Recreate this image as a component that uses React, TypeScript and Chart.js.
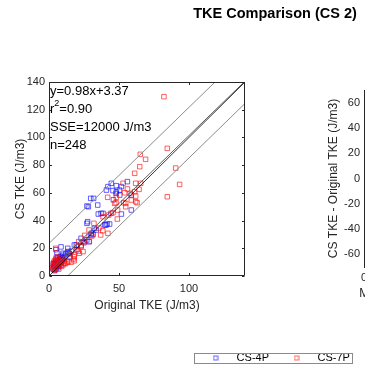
import React, { useEffect, useRef } from "react";
import { Chart, registerables } from "chart.js";

Chart.register(...registerables);

const FONT = "'Liberation Sans', Arial, Helvetica, sans-serif";

const FIGURE_TITLE = "TKE Comparison (CS 2)";
const SERIES_NAMES = ["CS-4P", "CS-7P"];
const MAIN_X_LABEL = "Original TKE (J/m3)";
const MAIN_Y_LABEL = "CS TKE (J/m3)";
const DIFF_X_LABEL = "Mean of CS and Original TKE (J/m3)";
const DIFF_Y_LABEL = "CS TKE - Original TKE (J/m3)";
const STATS_TEXT = ["y=0.98x+3.37", "r^2=0.90", "SSE=12000 J/m3", "n=248"];

const MAIN_X_TICKS = [0, 50, 100];
const MAIN_Y_TICKS = [0, 20, 40, 60, 80, 100, 120, 140];
const DIFF_X_TICKS = [0, 50, 100];
const DIFF_Y_TICKS = [-60, -40, -20, 0, 20, 40, 60];

// CS-4P (blue)
const CS4P_X = [3, 3.5, 4, 4, 4.5, 5, 5, 5.5, 6, 6, 6.5, 7, 7.5, 8, 8.5, 9, 9.5, 10, 3, 4, 5, 6, 7, 8, 10, 11, 12, 8.8, 5.7, 10,
  5, 8.6, 13.4, 14.5, 13.8, 18.1, 19.5, 22.9, 25, 27, 28.6, 30, 31.5, 32.4, 33.8, 30.2, 27.6, 27.1, 37.2, 35.2, 38.6, 40.7, 41.5, 43.3, 39.8, 44.3,
  28.1, 27.1, 34.8, 29.8, 31.9, 41, 42.1, 44.5, 45.7, 48.1, 48.1, 50.5, 51.7, 50.3, 47.9, 56, 51.7, 58.8, 58.8, 46, 15, 16, 20, 23];
const CS4P_Y = [5, 7, 6, 9, 8, 5, 10, 7, 8, 11, 6, 9, 12, 10, 8, 11, 13, 12, 9, 4, 12, 13, 7, 14, 15, 14, 16, 12.7, 16.8, 16.4,
  19, 21, 20, 16.4, 17.6, 22.4, 22.4, 27.2, 24, 26, 24.8, 29.6, 30, 34.4, 33.2, 30.8, 39.2, 38, 45.2, 44.7, 45.2, 36.8, 37.5, 37.5, 36.8, 45.2,
  50, 50.5, 51.2, 56, 56, 62, 64.5, 66.9, 61.6, 65.2, 60.8, 58.4, 64.5, 62, 59.6, 68.1, 44.7, 47.6, 58.4, 55, 14, 18, 19, 22];

// CS-7P (red)
const CS7P_X = [2.5, 3, 3.5, 4, 4, 4.5, 5, 5, 5.5, 6, 6.5, 7, 7.5, 8, 8.5, 9, 10, 11, 12, 13, 14, 11.2, 3, 4, 6, 8.6, 7, 9, 16, 18,
  4.8, 13.4, 14.8, 17.6, 17.9, 18.1, 21, 21.7, 24.3, 20, 22.9, 21.2, 24.3, 25.3, 28.8, 25.5, 30.7, 28.6, 32.1, 35.7, 36.9, 38.4, 42.1, 38.6,
  42.6, 45.7, 48.8, 49, 41.9, 47.9, 46.9, 48.1, 53.4, 54.8, 54.8, 54, 56, 52.9, 57.9, 58.8, 61.9, 61.9, 62.9, 61.2, 64.3, 61.9, 65.5,
  61.2, 64.8, 69, 65.2, 84.5, 82.1, 90.5, 93.3, 84.5];
const CS7P_Y = [6, 8, 10, 7, 11, 9, 6, 13, 8, 10, 12, 8, 11, 9, 13, 10, 8, 11, 9, 10, 10.3, 9.1, 5, 4, 14, 10.3, 5, 7, 10, 11,
  20, 17.6, 15.9, 12.3, 15.2, 13.9, 18, 16.4, 17.6, 21.2, 21.2, 24.8, 24.8, 24.8, 24.8, 29.3, 28.9, 33.2, 38, 34.6, 29.6, 32.7, 30.8, 42.8,
  44, 45.7, 41.1, 47.6, 56.8, 52.9, 52.4, 56.8, 52.9, 50, 52.4, 60.1, 62.8, 66.9, 59.6, 54.8, 57.7, 53.6, 52.9, 60.8, 62.5, 66.9, 66.9,
  74.1, 78.9, 84.2, 87.8, 92.1, 129.4, 77.9, 66.1, 57.2];

// reference lines (end points)
const ONE_TO_ONE_X = [0, 140];
const ONE_TO_ONE_Y = [0, 140];
const FIT_LINE_X = [0, 139.4];
const FIT_LINE_Y = [3.37, 140];
const UPPER_LINE_X = [0, 118.6];
const UPPER_LINE_Y = [23.5, 140];
const LOWER_LINE_X = [13.3, 140];
const LOWER_LINE_Y = [0, 124.5];

const BLUE = "rgba(0,0,255,0.62)";
const RED = "rgba(255,0,0,0.62)";
const AXIS = "#262626";

const pts = (xs: number[], ys: number[]) => xs.map((x, i) => ({ x, y: ys[i] }));

const lineDs = (xs: number[], ys: number[], color: string, width: number) => ({
  data: pts(xs, ys),
  showLine: true,
  pointRadius: 0,
  borderColor: color,
  borderWidth: width,
  fill: false,
  order: 0,
});

const fixTicks = (list: number[]) => (s: any) => {
  s.ticks = list.map((v) => ({ value: v }));
};

const mainDecor = {
  id: "mainDecor",
  afterDraw(chart: any) {
    const { ctx, chartArea } = chart;
    const { left, right, top, bottom } = chartArea;
    const xs = chart.scales.x;
    const ys = chart.scales.y;
    ctx.save();
    ctx.strokeStyle = AXIS;
    ctx.lineWidth = 1;
    const L = Math.round(left) + 0.5;
    const R = Math.round(right) - 0.5;
    const T = Math.round(top) + 0.5;
    const B = Math.round(bottom) - 0.5;
    ctx.beginPath();
    ctx.rect(L, T, R - L, B - T);
    const tl = 2.5;
    MAIN_X_TICKS.forEach((v) => {
      const p = Math.round(xs.getPixelForValue(v)) + 0.5;
      ctx.moveTo(p, B);
      ctx.lineTo(p, B - tl);
      ctx.moveTo(p, T);
      ctx.lineTo(p, T + tl);
    });
    MAIN_Y_TICKS.forEach((v) => {
      const p = Math.round(ys.getPixelForValue(v)) + 0.5;
      ctx.moveTo(L, p);
      ctx.lineTo(L + tl, p);
      ctx.moveTo(R, p);
      ctx.lineTo(R - tl, p);
    });
    ctx.stroke();

    // statistics text
    ctx.fillStyle = "#000";
    ctx.textBaseline = "middle";
    ctx.textAlign = "left";
    STATS_TEXT.forEach((line, i) => {
      const y = top + 9 + i * 18;
      let x = left + 1;
      const parts = line.split("^");
      ctx.font = `13px ${FONT}`;
      if (parts.length === 2) {
        ctx.fillText(parts[0], x, y);
        x += ctx.measureText(parts[0]).width;
        ctx.font = `9px ${FONT}`;
        ctx.fillText(parts[1][0], x, y - 5);
        x += ctx.measureText(parts[1][0]).width;
        ctx.font = `13px ${FONT}`;
        ctx.fillText(parts[1].slice(1), x, y);
      } else {
        ctx.fillText(line, x, y);
      }
    });
    ctx.restore();
  },
};

const sideDecor = {
  id: "sideDecor",
  afterDraw(chart: any) {
    const ctx = chart.ctx;
    const { left, right, bottom } = chart.chartArea;
    ctx.save();
    // x-axis label of the difference plot (may run wider than its axes)
    ctx.font = `12px ${FONT}`;
    ctx.fillStyle = AXIS;
    ctx.textAlign = "center";
    ctx.textBaseline = "middle";
    ctx.fillText(DIFF_X_LABEL, (left + right) / 2, bottom + 26.5);

    // legend frame
    const lg = chart.legend;
    if (lg && lg.legendHitBoxes && lg.legendHitBoxes.length) {
      const hb = lg.legendHitBoxes;
      const first = hb[0];
      const last = hb[hb.length - 1];
      const l = Math.round(first.left - 6.5) + 0.5;
      const r = Math.round(last.left + last.width + 2.5) + 0.5;
      const t = Math.round(first.top) + 0.5;
      const b = Math.round(first.top + first.height) - 0.5;
      ctx.strokeStyle = "#8a8a8a";
      ctx.lineWidth = 1;
      ctx.strokeRect(l, t, r - l, b - t);
    }
    ctx.restore();
  },
};

function makeIcon(color: string) {
  const c = document.createElement("canvas");
  c.width = 6;
  c.height = 6;
  const g = c.getContext("2d")!;
  g.strokeStyle = color;
  g.lineWidth = 1;
  g.strokeRect(1, 1, 4, 4);
  return c;
}

export default function App() {
  const mainRef = useRef<HTMLCanvasElement>(null);
  const sideRef = useRef<HTMLCanvasElement>(null);

  useEffect(() => {
    Chart.defaults.font.family = FONT;
    Chart.defaults.color = AXIS;

    const tickFont = { size: 11 };
    const labelFont = { size: 12 };

    const main = new Chart(mainRef.current!, {
      type: "scatter",
      data: {
        datasets: [
          lineDs(ONE_TO_ONE_X, ONE_TO_ONE_Y, "#000000", 0.8),
          lineDs(FIT_LINE_X, FIT_LINE_Y, "#5a5a5a", 1),
          lineDs(UPPER_LINE_X, UPPER_LINE_Y, "#8c8c8c", 1),
          lineDs(LOWER_LINE_X, LOWER_LINE_Y, "#8c8c8c", 1),
          {
            label: SERIES_NAMES[1],
            data: pts(CS7P_X, CS7P_Y),
            pointStyle: "rect",
            pointRadius: 3.2,
            borderWidth: 1,
            borderColor: RED,
            backgroundColor: "transparent",
            order: 1,
          },
          {
            label: SERIES_NAMES[0],
            data: pts(CS4P_X, CS4P_Y),
            pointStyle: "rect",
            pointRadius: 3.2,
            borderWidth: 1,
            borderColor: BLUE,
            backgroundColor: "transparent",
            order: 2,
          },
        ] as any,
      },
      options: {
        animation: false,
        responsive: false,
        events: [],
        layout: { padding: { left: 0, right: 120, top: 82, bottom: 0 } },
        plugins: {
          legend: { display: false },
          title: { display: false },
          tooltip: { enabled: false },
        },
        scales: {
          x: {
            type: "linear",
            min: 0,
            max: 140,
            afterBuildTicks: fixTicks(MAIN_X_TICKS),
            afterFit: (s: any) => {
              s.height = 89;
            },
            grid: { display: false, drawTicks: false },
            border: { display: false },
            ticks: { padding: 6, color: AXIS, font: tickFont },
            title: { display: true, text: MAIN_X_LABEL, color: AXIS, font: labelFont, padding: { top: 0, bottom: 52 } },
          },
          y: {
            type: "linear",
            min: 0,
            max: 140,
            afterBuildTicks: fixTicks(MAIN_Y_TICKS),
            afterFit: (s: any) => {
              s.width = 49;
            },
            grid: { display: false, drawTicks: false },
            border: { display: false },
            ticks: { padding: 4, color: AXIS, font: tickFont },
            title: { display: true, text: MAIN_Y_LABEL, color: AXIS, font: labelFont, padding: { top: 13, bottom: 0 } },
          },
        },
      } as any,
      plugins: [mainDecor],
    });

    const side = new Chart(sideRef.current!, {
      type: "scatter",
      data: {
        datasets: [
          { label: SERIES_NAMES[0], data: [], pointStyle: makeIcon(BLUE), borderColor: BLUE, backgroundColor: "transparent" },
          { label: SERIES_NAMES[1], data: [], pointStyle: makeIcon(RED), borderColor: RED, backgroundColor: "transparent" },
        ] as any,
      },
      options: {
        animation: false,
        responsive: false,
        events: [],
        layout: { padding: { left: 0, right: 0, top: 0, bottom: -8.5 } },
        plugins: {
          title: {
            display: true,
            text: FIGURE_TITLE,
            color: "#000",
            font: { size: 14.5, weight: "bold" },
            padding: { top: 5, bottom: 67.6 },
          },
          legend: {
            display: true,
            position: "bottom",
            labels: { usePointStyle: true, pointStyleWidth: 31, padding: 12, color: "#000", font: { size: 11 } },
          },
          tooltip: { enabled: false },
        },
        scales: {
          x: {
            type: "linear",
            min: 0,
            max: 110,
            afterBuildTicks: fixTicks(DIFF_X_TICKS),
            afterFit: (s: any) => {
              s.height = 73.5;
            },
            grid: { display: false, drawTicks: false },
            border: { display: true, color: AXIS },
            ticks: { padding: 4, color: AXIS, font: tickFont },
            title: { display: false },
          },
          y: {
            type: "linear",
            position: "left",
            weight: 0,
            min: -70,
            max: 70,
            afterBuildTicks: fixTicks(DIFF_Y_TICKS),
            afterFit: (s: any) => {
              s.width = 40;
            },
            grid: { display: false, drawTicks: false },
            border: { display: true, color: AXIS },
            ticks: { padding: 4, color: AXIS, font: tickFont },
            title: { display: true, text: DIFF_Y_LABEL, color: AXIS, font: labelFont, padding: { top: 2, bottom: 0 } },
          },
          yPad: {
            type: "linear",
            position: "left",
            weight: 10,
            display: true,
            afterFit: (s: any) => {
              s.width = 324;
            },
            grid: { display: false, drawTicks: false },
            border: { display: false },
            ticks: { display: false },
          },
        },
      } as any,
      plugins: [sideDecor],
    });

    return () => {
      main.destroy();
      side.destroy();
    };
  }, []);

  return (
    <div
      style={{
        position: "fixed",
        left: 0,
        top: 0,
        width: 365,
        height: 365,
        overflow: "hidden",
        background: "#fff",
      }}
    >
      <canvas ref={mainRef} width={365} height={365} style={{ position: "absolute", left: 0, top: 0 }} />
      <canvas
        ref={sideRef}
        width={550}
        height={365}
        style={{ position: "absolute", left: 0, top: 0, pointerEvents: "none" }}
      />
    </div>
  );
}
